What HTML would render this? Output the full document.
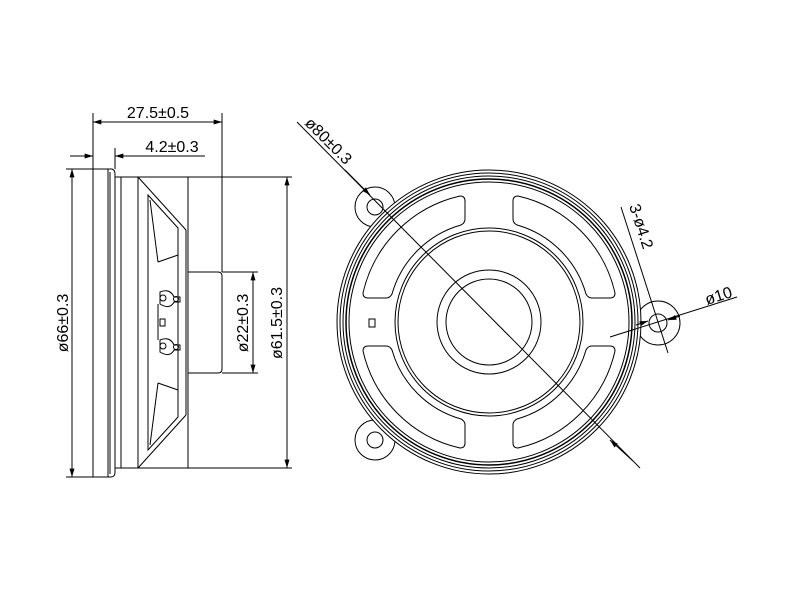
<!DOCTYPE html>
<html><head><meta charset="utf-8"><style>html,body{margin:0;padding:0;background:#fff}svg{display:block}text{font-family:"Liberation Sans",sans-serif;font-size:16px;fill:#000}</style></head><body>
<svg width="800" height="600" viewBox="0 0 800 600" xmlns="http://www.w3.org/2000/svg">
<defs>
<marker id="a" viewBox="0 0 10 6" refX="10" refY="3" markerWidth="10" markerHeight="5" orient="auto-start-reverse" markerUnits="userSpaceOnUse"><path d="M0,0L10,3L0,6z" fill="#000"/></marker>
</defs>
<g fill="none" stroke="#000" stroke-width="1">
<rect x="93" y="169" width="15" height="308"/>
<path d="M108,169 L112,169 Q115,170 115,174 L115,472 Q115,477 111,477 L108,477"/>
<line x1="110" y1="172" x2="110" y2="474"/>
<rect x="115" y="177" width="73" height="291"/>
<line x1="121" y1="177" x2="121" y2="468"/>
<line x1="138" y1="177" x2="138" y2="468"/>
<path d="M138,177 L186,230 M138,468 L186,415"/>
<line x1="186" y1="230" x2="186" y2="415"/>
<path d="M148,195 L178,228 L178,417 L148,450 Z"/>
<path d="M150,200 L158,262 M150,445 L158,383 M158,262 L178,255 M158,383 L178,390"/>
<path d="M188,272 L218,272 Q222,272 222,276 L222,369 Q222,373 218,373 L188,373"/>
<path d="M160,292 Q170,288 174,297 L180,297 L180,302 L174,302 Q170,310 160,304 Z"/>
<path d="M160,340 Q170,336 174,345 L180,345 L180,350 L174,350 Q170,358 160,352 Z"/>
<circle cx="163" cy="298" r="3"/><circle cx="176" cy="299" r="2.5"/>
<circle cx="163" cy="346" r="3"/><circle cx="176" cy="347" r="2.5"/>
<line x1="158" y1="304" x2="158" y2="340"/>
<rect x="160" y="319" width="5" height="7"/>
<line x1="93" y1="113" x2="93" y2="169"/>
<line x1="222" y1="113" x2="222" y2="272"/>
<line x1="93" y1="122" x2="222" y2="122" marker-start="url(#a)" marker-end="url(#a)"/>
<line x1="115" y1="148" x2="115" y2="169"/>
<line x1="70" y1="156" x2="93" y2="156" marker-end="url(#a)"/>
<line x1="115" y1="156" x2="205" y2="156" marker-start="url(#a)"/>
<line x1="66" y1="169" x2="93" y2="169"/>
<line x1="66" y1="477" x2="93" y2="477"/>
<line x1="72" y1="169" x2="72" y2="477" marker-start="url(#a)" marker-end="url(#a)"/>
<line x1="188" y1="177" x2="292" y2="177"/>
<line x1="115" y1="468" x2="292" y2="468"/>
<line x1="287" y1="177" x2="287" y2="468" marker-start="url(#a)" marker-end="url(#a)"/>
<line x1="222" y1="272" x2="258" y2="272"/>
<line x1="222" y1="373" x2="258" y2="373"/>
<line x1="253" y1="272" x2="253" y2="373" marker-start="url(#a)" marker-end="url(#a)"/>
<circle cx="375" cy="207" r="20"/><circle cx="375" cy="207" r="8"/>
<circle cx="375" cy="440" r="20"/><circle cx="375" cy="440" r="8"/>
<circle cx="658" cy="323" r="22"/><circle cx="658" cy="323" r="9"/>
<circle cx="489" cy="322" r="152" fill="#fff"/>
<circle cx="489" cy="322" r="149"/>
<circle cx="489" cy="322" r="146"/>
<circle cx="489" cy="322" r="143" stroke-width="1.5"/>
<circle cx="489" cy="322" r="140"/>
<circle cx="489" cy="322" r="94"/>
<circle cx="489" cy="322" r="91"/>
<circle cx="489" cy="322" r="52"/>
<circle cx="489" cy="322" r="43"/>
<g transform="translate(489,322)">
<path id="s" d="M29,-126 A129,129 0 0 1 126,-29 Q126,-24 121,-24 L103,-24 Q99,-24 97,-28 A100,100 0 0 0 28,-97 Q24,-99 24,-103 L24,-121 Q24,-126 29,-126 Z"/>
<use href="#s" transform="scale(-1,1)"/>
<use href="#s" transform="scale(1,-1)"/>
<use href="#s" transform="scale(-1,-1)"/>
</g>
<rect x="369" y="319" width="6" height="8"/>
<line x1="297" y1="122" x2="640" y2="468"/>
<line x1="345" y1="170" x2="370" y2="195" marker-end="url(#a)"/>
<line x1="610" y1="440" x2="633" y2="461" marker-start="url(#a)"/>
<line x1="621" y1="207" x2="668" y2="353"/>
<line x1="610" y1="337" x2="737" y2="297"/>
<path d="M636,325 L648,321" marker-end="url(#a)"/>
<path d="M680,316 L668,320" marker-end="url(#a)"/>
</g>
<text x="158" y="118" text-anchor="middle">27.5±0.5</text>
<text x="172" y="152" text-anchor="middle">4.2±0.3</text>
<text transform="translate(68,323) rotate(-90)" text-anchor="middle">ø66±0.3</text>
<text transform="translate(282,323) rotate(-90)" text-anchor="middle">ø61.5±0.3</text>
<text transform="translate(248,323) rotate(-90)" text-anchor="middle">ø22±0.3</text>
<text transform="translate(304,124) rotate(45)">ø80±0.3</text>
<text transform="translate(629,206) rotate(72)">3-ø4.2</text>
<text transform="translate(707,305) rotate(-17.5)">ø10</text>
</svg>
</body></html>
